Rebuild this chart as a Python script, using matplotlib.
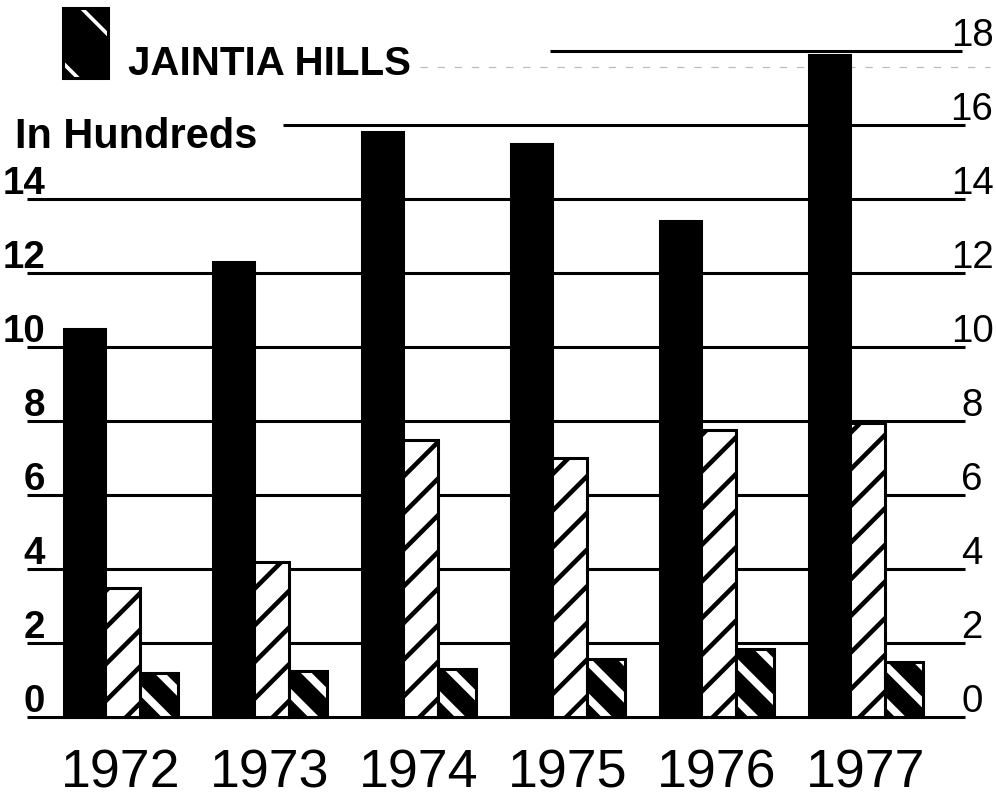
import numpy as np
import matplotlib
matplotlib.use("Agg")
from matplotlib import pyplot as plt
from matplotlib.patches import Rectangle

years = ['1972', '1973', '1974', '1975', '1976', '1977']
solid = [10.5, 12.3, 15.8, 15.5, 13.4, 17.9]
striped = [3.5, 4.2, 7.5, 7.0, 7.75, 7.95]
small = [1.2, 1.25, 1.3, 1.57, 1.83, 1.5]
ticks = [0, 2, 4, 6, 8, 10, 12, 14, 16, 18]
legend_label = 'JAINTIA HILLS'
unit_label = 'In Hundreds'

font = 'Liberation Sans'

DPI = 220
fig = plt.figure(figsize=(996 / DPI, 799 / DPI), dpi=DPI)
ax = fig.add_axes([0, 0, 1, 1])

# pixel layout: group centres 149px apart, 37px per unit, baseline at y=717
px0, gap, ppu, base = 121, 149, 37, 717
ax.set_xlim(-px0 / gap, (996 - px0) / gap)
ax.set_ylim(-(799 - base) / ppu, base / ppu)
ax.axis('off')

def fx(p):
    return (p - px0) / gap

x = np.arange(len(years))
widths = [0.27, 0.235, 0.255]
offs = [-0.245, 0.0075, 0.2525]

# grid lines with labels on both ends
for t in ticks:
    left = 27
    right = 965
    if t == 16:
        left = 283
    if t == 18:
        left, right = 550, 962
    ax.hlines(t, fx(left), fx(right), color='black', lw=1.0, zorder=1)
    if t <= 14:
        ax.text(fx(45), t + 5 / ppu, str(t), ha='right', va='baseline',
                fontsize=12.6, fontweight='bold', family=font)
    ax.text(fx(972), t + 5 / ppu, str(t), ha='center', va='baseline',
            fontsize=12.6, family=font)

ax.bar(x + offs[0], solid, widths[0], color='black', edgecolor='black', lw=1.0, zorder=2)

plt.rcParams['hatch.linewidth'] = 1.5
ax.bar(x + offs[1], striped, widths[1], color='white', edgecolor='black',
       hatch='//', lw=1.0, zorder=2)

plt.rcParams['hatch.linewidth'] = 2.5
hb = ax.bar(x + offs[2], small, widths[2], color='black', edgecolor='white',
            hatch='\\\\', lw=0, zorder=2)
for b in hb:
    if hasattr(b, 'set_hatch_linewidth'):
        b.set_hatch_linewidth(2.5)
ax.bar(x + offs[2], small, widths[2], fill=False, edgecolor='black', lw=1.0, zorder=3)

# legend marker + label
icon = Rectangle((fx(63), (base - 78) / ppu), fx(108) - fx(63), 70 / ppu,
                 facecolor='black', edgecolor='white', hatch='\\', lw=0, zorder=3)
if hasattr(icon, 'set_hatch_linewidth'):
    icon.set_hatch_linewidth(1.2)
ax.add_patch(icon)
ax.add_patch(Rectangle((fx(63), (base - 78) / ppu), fx(108) - fx(63), 70 / ppu,
                       fill=False, edgecolor='black', lw=1.0, zorder=4))
ax.text(fx(128), (base - 75) / ppu, legend_label, ha='left', va='baseline',
        fontsize=13.2, fontweight='bold', family=font)
ax.hlines((base - 67) / ppu, fx(420), fx(990), color='#bbbbbb', lw=0.4,
          linestyles=(0, (6, 8)), zorder=0)
ax.text(fx(15), (base - 148) / ppu, unit_label, ha='left', va='baseline',
        fontsize=13.6, fontweight='bold', family=font)

for i, y in enumerate(years):
    ax.text(x[i], (base - 787) / ppu, y, ha='center', va='baseline',
            fontsize=17.6, family=font)

fig.savefig('out.png', dpi=DPI, facecolor='white')
